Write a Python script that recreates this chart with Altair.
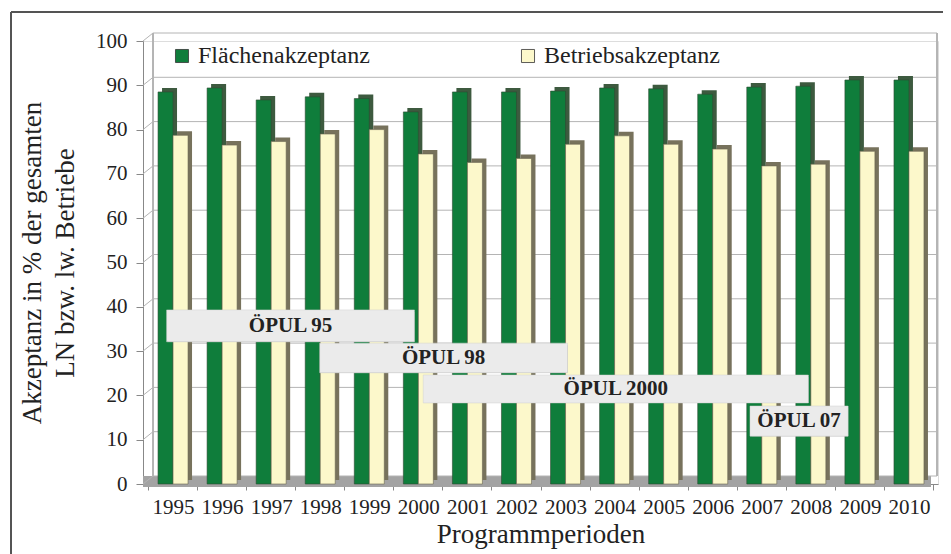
import altair as alt
import pandas as pd

# ---- data ----
years = list(range(1995, 2011))
flaechen = [88.5, 89.4, 86.7, 87.4, 87.0, 84.0, 88.5, 88.5, 88.7, 89.4, 89.2, 88.0, 89.6, 89.8, 91.2, 91.2]
betriebe = [78.7, 76.5, 77.3, 79.0, 80.0, 74.5, 72.6, 73.5, 76.7, 78.6, 76.7, 75.6, 71.8, 72.2, 75.1, 75.1]
series_names = ["Flächenakzeptanz", "Betriebsakzeptanz"]

prog_labels = ["ÖPUL 95", "ÖPUL 98", "ÖPUL 2000", "ÖPUL 07"]
prog_start = [1995.38, 1998.5, 2000.61, 2007.27]
prog_end = [2000.43, 2003.55, 2008.46, 2009.27]
prog_top = [39.3, 31.8, 24.6, 17.6]
prog_bottom = [32.1, 25.1, 18.3, 10.8]

y_ticks = list(range(0, 101, 10))
x_ticks = years + [2011]

GREEN = "#0f7d3b"
YELLOW = "#fcf8cb"
SIDE = "#77725c"
GRID = "#b4b4b4"
FONT = "Liberation Serif"

bars = pd.DataFrame(
    [{"year": y, "series": series_names[0], "value": v} for y, v in zip(years, flaechen)]
    + [{"year": y, "series": series_names[1], "value": v} for y, v in zip(years, betriebe)]
)
grid = pd.DataFrame({"v": y_ticks})
boxes = pd.DataFrame({"label": prog_labels, "x0": prog_start, "x1": prog_end,
                      "top": prog_top, "bottom": prog_bottom})

W, H = 795, 443
xscale = alt.Scale(domain=[1995, 2011], nice=False, zero=False)
yscale = alt.Scale(domain=[0, 100], nice=False)

xaxis = alt.Axis(values=x_ticks, format="d", labelExpr="datum.value < 2011 ? datum.label : ''",
                 labelOffset=25, labelFont=FONT, labelFontSize=21, labelColor="#222",
                 tickColor="#888", domainColor="#888", tickSize=6, labelPadding=6,
                 labelOverlap=False, labelFlush=False, grid=False,
                 title="Programmperioden", titleFont=FONT, titleFontSize=27,
                 titleFontWeight="normal", titleColor="#222", titlePadding=4)
yaxis = alt.Axis(values=y_ticks, labelFont=FONT, labelFontSize=21, labelColor="#222",
                 tickColor="#888", domainColor="#888", tickSize=7, labelPadding=9,
                 grid=False,
                 title=["Akzeptanz in % der gesamten", "LN bzw. lw. Betriebe"],
                 titleFont=FONT, titleFontSize=27, titleFontWeight="normal",
                 titleColor="#222", titlePadding=16, titleLineHeight=33)

# outer frame
frame_v = alt.Chart(grid).mark_rule(color="#555", strokeWidth=1.2).encode(
    x=alt.value(-132), y=alt.value(-29), y2=alt.value(600))
frame_h = alt.Chart(grid).mark_rule(color="#555", strokeWidth=1.2).encode(
    x=alt.value(-132), x2=alt.value(900), y=alt.value(-29))

# back wall gridlines, side wall diagonals, wall edges
back_grid = alt.Chart(grid).mark_rule(color=GRID, yOffset=-8).encode(
    x=alt.value(10), x2=alt.value(794),
    y=alt.Y("v:Q", scale=yscale, axis=yaxis))
diag = alt.Chart(grid).mark_rule(color=GRID, y2Offset=-8).encode(
    x=alt.value(0), x2=alt.value(10),
    y=alt.Y("v:Q", scale=yscale), y2="v:Q")
wall_l = alt.Chart(grid).mark_rule(color=GRID).encode(
    x=alt.value(10), y=alt.value(-8), y2=alt.value(H - 8))
wall_r = alt.Chart(grid).mark_rule(color=GRID).encode(
    x=alt.value(794), y=alt.value(-8), y2=alt.value(H - 8))
floor = alt.Chart(grid).mark_rect(color="#a3a3a3").encode(
    x=alt.value(0), x2=alt.value(788), y=alt.value(H - 8), y2=alt.value(H + 3))

base = alt.Chart(bars).transform_calculate(xc="datum.year + 0.5")
is_f = alt.datum.series == series_names[0]
is_b = alt.datum.series == series_names[1]

color = alt.Color("series:N", scale=alt.Scale(domain=series_names, range=[GREEN, YELLOW]),
                  legend=alt.Legend(title=None, orient="none", legendX=27, legendY=3,
                                    direction="horizontal", symbolType="square",
                                    symbolSize=170, symbolStrokeColor="#333",
                                    symbolStrokeWidth=0.8, labelFont=FONT,
                                    labelFontSize=24, labelColor="#222", labelLimit=400,
                                    columnPadding=146, labelOffset=4))

def xenc():
    return alt.X("xc:Q", scale=xscale, axis=xaxis)

shadow_f = base.transform_filter(is_f).mark_bar(width=15, xOffset=-3, yOffset=-4, color="#3d5a3f").encode(
    x=xenc(), y=alt.Y("value:Q", scale=yscale))
shadow_b = base.transform_filter(is_b).mark_bar(width=15, xOffset=12, yOffset=-4, color=SIDE).encode(
    x=xenc(), y=alt.Y("value:Q", scale=yscale))
bar_f = base.transform_filter(is_f).mark_bar(width=15, xOffset=-7, stroke="#2f4a33", strokeWidth=0.6).encode(
    x=xenc(), y=alt.Y("value:Q", scale=yscale), color=color)
bar_b = base.transform_filter(is_b).mark_bar(width=15, xOffset=8, stroke="#6a6550", strokeWidth=0.6).encode(
    x=xenc(), y=alt.Y("value:Q", scale=yscale), color=color)

bbase = alt.Chart(boxes).transform_calculate(xm="(datum.x0 + datum.x1) / 2",
                                             ym="(datum.top + datum.bottom) / 2")
box_shadow = bbase.mark_rect(color="#9c9c9c", xOffset=1.5, yOffset=2).encode(
    x=alt.X("x0:Q", scale=xscale), x2="x1:Q",
    y=alt.Y("top:Q", scale=yscale), y2="bottom:Q")
box = bbase.mark_rect(color="#ebebeb", stroke="#d0d0d0", strokeWidth=0.5).encode(
    x=alt.X("x0:Q", scale=xscale), x2="x1:Q",
    y=alt.Y("top:Q", scale=yscale), y2="bottom:Q")
box_text = bbase.mark_text(font=FONT, fontSize=21, fontWeight="bold", color="#222",
                           baseline="middle", align="center").encode(
    x=alt.X("xm:Q", scale=xscale), y=alt.Y("ym:Q", scale=yscale), text="label:N")

chart = alt.layer(
    frame_v, frame_h, floor, back_grid, diag, wall_l, wall_r,
    shadow_f, shadow_b, bar_f, bar_b,
    box_shadow, box, box_text,
).properties(
    width=W, height=H,
    autosize=alt.AutoSizeParams(type="none"),
    padding={"left": 135, "top": 33, "right": 5, "bottom": 70},
).configure_view(stroke=None).configure(background="white")

chart.save("out.html", embed_options={"renderer": "svg", "actions": False})
